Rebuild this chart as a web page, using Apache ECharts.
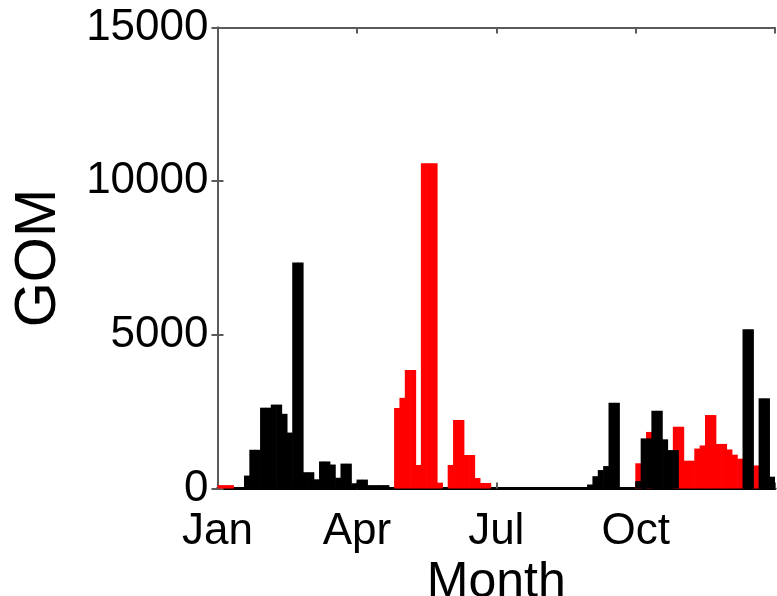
<!DOCTYPE html>
<html>
<head>
<meta charset="utf-8">
<script src="https://cdn.jsdelivr.net/npm/echarts@6/dist/echarts.min.js"></script>
<style>
  html, body { margin: 0; padding: 0; background: #fff; }
  #chart { width: 777px; height: 596px; }
</style>
</head>
<body>
<div id="chart"></div>
<script>
// Half-week bins across one year (104 bins, 0 .. 52 weeks)
const binsPerWeek = 2;
const totalWeeks = 52;

// Month tick labels, placed every 13 weeks
const monthTicks = [0, 13, 26, 39];
const monthLabels = ['Jan', 'Apr', 'Jul', 'Oct'];

// GOM per half-week bin, red series
const redGOM = [
  110, 110, 110, 0, 0, 0, 0, 0, 0, 0,
  0, 0, 0, 0, 0, 0, 0, 0, 0, 0,
  0, 0, 0, 0, 0, 0, 0, 0, 0, 0,
  0, 0, 0, 2620, 2950, 3856, 3856, 765, 10580, 10580,
  10580, 190, 0, 765, 2230, 2230, 1090, 1090, 340, 180,
  180, 0, 0, 0, 0, 0, 0, 0, 0, 0,
  0, 0, 0, 0, 0, 0, 0, 0, 0, 0,
  0, 0, 0, 0, 0, 0, 0, 0, 820, 0,
  1840, 0, 0, 0, 0, 2010, 2010, 905, 905, 1300,
  1400, 2390, 2390, 1450, 1450, 1270, 1100, 970, 0, 0,
  750, 0, 0, 0
];

// GOM per half-week bin, black series
const blackGOM = [
  0, 0, 0, 0, 0, 420, 1260, 1260, 2630, 2630,
  2730, 2730, 2430, 1820, 7350, 7350, 530, 530, 300, 880,
  880, 780, 350, 810, 810, 170, 290, 290, 110, 110,
  110, 110, 0, 0, 0, 0, 0, 0, 0, 0,
  0, 0, 0, 0, 0, 0, 0, 0, 0, 0,
  0, 0, 0, 0, 0, 0, 0, 0, 0, 0,
  0, 0, 0, 0, 0, 0, 0, 0, 0, 130,
  400, 600, 730, 2790, 2790, 0, 0, 0, 240, 1630,
  1630, 2530, 2530, 1600, 1250, 1250, 0, 0, 0, 0,
  0, 0, 0, 0, 0, 0, 0, 0, 5180, 5180,
  0, 2935, 2935, 385
];

const binCategories = redGOM.map((_, i) => String(i / binsPerWeek));

const FONT = "'Liberation Sans', Arial, Helvetica, sans-serif";
const frameColor = '#5a5a5a';

const chart = echarts.init(document.getElementById('chart'), null, { renderer: 'canvas' });

chart.setOption({
  animation: false,
  backgroundColor: '#ffffff',
  grid: {
    left: 217.5, right: 2, top: 27.5, bottom: 107.5,
    containLabel: false,
    outerBoundsMode: 'none'
  },
  xAxis: [
    {
      // visible month axis along the bottom
      type: 'value',
      min: 0,
      max: totalWeeks,
      interval: 13,
      position: 'bottom',
      name: 'Month',
      nameLocation: 'middle',
      nameGap: 60,
      nameTextStyle: { fontFamily: FONT, fontSize: 50, color: '#000' },
      axisLine: { show: true, onZero: false, lineStyle: { color: '#000', width: 3 } },
      axisTick: { show: true, inside: true, length: 6, lineStyle: { color: frameColor, width: 2 } },
      axisLabel: {
        show: true,
        margin: 21,
        fontFamily: FONT,
        fontSize: 44,
        color: '#000',
        formatter: (v) => {
          const k = monthTicks.indexOf(v);
          return k >= 0 ? monthLabels[k] : '';
        }
      },
      splitLine: { show: false }
    },
    {
      // top frame with inward ticks
      type: 'value',
      min: 0,
      max: totalWeeks,
      interval: 13,
      position: 'top',
      axisLine: { show: true, onZero: false, lineStyle: { color: frameColor, width: 2 } },
      axisTick: { show: true, inside: true, length: 6, lineStyle: { color: frameColor, width: 2 } },
      axisLabel: { show: false },
      splitLine: { show: false }
    },
    {
      // band axis carrying the half-week bars
      type: 'category',
      data: binCategories,
      position: 'bottom',
      show: false,
      boundaryGap: true
    }
  ],
  yAxis: [
    {
      type: 'value',
      min: 0,
      max: 15000,
      interval: 5000,
      position: 'left',
      name: 'GOM',
      nameLocation: 'middle',
      nameRotate: 90,
      nameGap: 150,
      nameTextStyle: { fontFamily: FONT, fontSize: 58, color: '#000' },
      axisLine: { show: true, lineStyle: { color: frameColor, width: 2 } },
      axisTick: { show: true, inside: true, length: 6, lineStyle: { color: frameColor, width: 2 } },
      axisLabel: {
        show: true, margin: 9, fontFamily: FONT, fontSize: 44, color: '#000',
        formatter: (v) => String(v)
      },
      splitLine: { show: false }
    },
    {
      type: 'value',
      min: 0,
      max: 15000,
      interval: 5000,
      position: 'right',
      axisLine: { show: true, lineStyle: { color: frameColor, width: 2 } },
      axisTick: { show: true, inside: true, length: 6, lineStyle: { color: frameColor, width: 2 } },
      axisLabel: { show: false },
      splitLine: { show: false }
    }
  ],
  series: [
    {
      name: 'red',
      type: 'bar',
      xAxisIndex: 2,
      yAxisIndex: 0,
      data: redGOM,
      barGap: '-100%',
      barWidth: 6,
      itemStyle: { color: '#ff0000' },
      z: 2
    },
    {
      name: 'black',
      type: 'bar',
      xAxisIndex: 2,
      yAxisIndex: 0,
      data: blackGOM,
      barGap: '-100%',
      barWidth: 6,
      itemStyle: { color: '#000000' },
      z: 3
    }
  ]
});
</script>
</body>
</html>
